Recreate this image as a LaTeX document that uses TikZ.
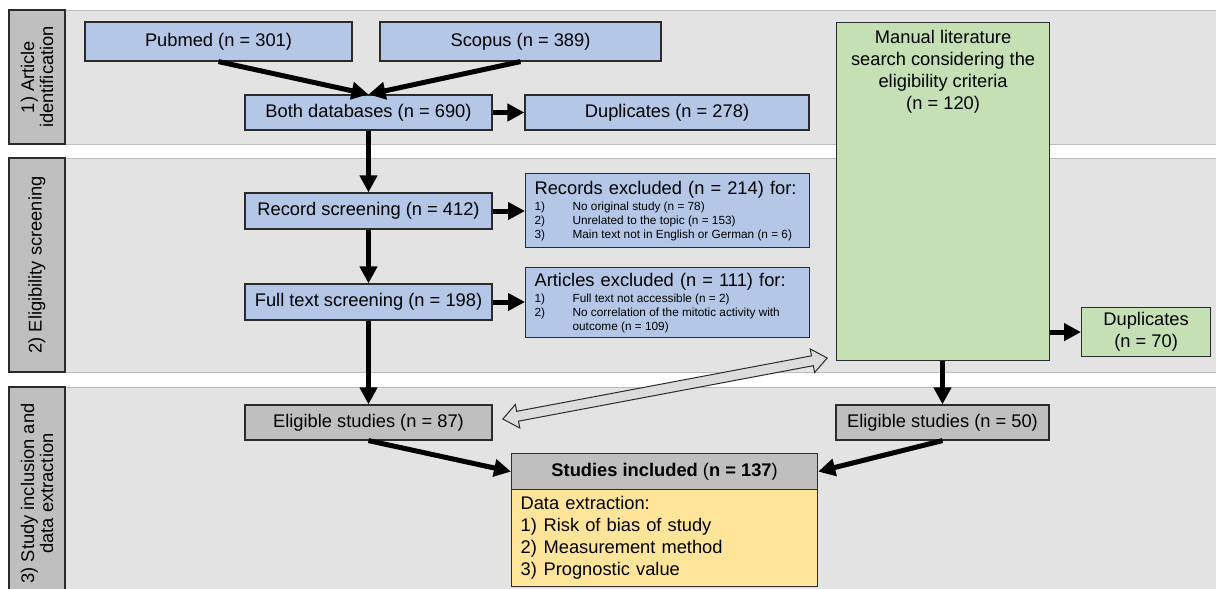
\documentclass[tikz,border=0pt]{standalone}
\usepackage{fontspec}
\setmainfont{Liberation Sans}
\usetikzlibrary{arrows.meta}

\definecolor{bandfill}{HTML}{E3E3E3}
\definecolor{bandline}{HTML}{BDBDBD}
\definecolor{boxline}{HTML}{2B2B2B}
\definecolor{phasegray}{HTML}{BFBFBF}
\definecolor{boxblue}{HTML}{B4C7E7}
\definecolor{boxgreen}{HTML}{C5E0B4}
\definecolor{boxyellow}{HTML}{FFE599}
\definecolor{swapgray}{HTML}{DCDCDC}

\newcommand{\itemno}[2][38pt]{\makebox[#1][l]{#2}}
\newcommand{\smalllist}{\fontsize{11.8}{14}\selectfont\spaceskip=0pt\xspaceskip=0pt\relax}

\begin{document}
\begin{tikzpicture}[x=1pt, y=-1pt,
    every node/.style={font=\fontsize{18.3}{22}\selectfont},
    band/.style={draw=bandline, fill=bandfill, line width=0.8pt},
    phase/.style={draw=boxline, fill=phasegray, line width=1.2pt, rotate=90,
        minimum height=56pt, inner sep=0pt, align=center,
        font=\fontsize{18.3}{19}\selectfont},
    box/.style={draw=boxline, line width=1.2pt, inner sep=0pt},
    bluebox/.style={box, fill=boxblue},
    graybox/.style={box, fill=phasegray},
    flow/.style={line width=5pt, -{Triangle[length=17pt,width=17pt]}},
    swapshape/.style={draw=boxline, fill=swapgray, line width=1pt, line join=miter}
]
    \useasboundingbox (0,0) rectangle (1216,589);
    \clip (0,0) rectangle (1216,589);

    % phases
    \draw[band] (9,10) rectangle (1226,144);
    \draw[band] (9,158) rectangle (1226,372);
    \draw[band] (9,387) rectangle (1226,600);
    \node[phase, minimum width=134pt] (ph1) at (37,77) {1) Article\\identification};
    \node[phase, minimum width=214pt] (ph2) at (37,265) {2) Eligibility screening};
    \node[phase, minimum width=213pt] (ph3) at (37,493.5) {3) Study inclusion and\\data extraction};

    % database search
    \node[bluebox, minimum width=267pt, minimum height=39pt] (pubmed) at (218.5,41.5) {Pubmed (n = 301)};
    \node[bluebox, minimum width=281pt, minimum height=39pt] (scopus) at (520.5,41.5) {Scopus (n = 389)};
    \node[bluebox, minimum width=247pt, minimum height=35pt] (both) at (368.5,112.5) {Both databases (n = 690)};
    \node[bluebox, minimum width=284pt, minimum height=35pt] (dup1) at (667,112.5) {Duplicates (n = 278)};
    \node[bluebox, minimum width=247pt, minimum height=36pt] (record) at (368.5,211) {Record screening (n = 412)};
    \node[bluebox, minimum width=247pt, minimum height=36pt] (full) at (368.5,302) {Full text screening (n = 198)};

    \node[bluebox, anchor=north west, minimum width=284pt, minimum height=74pt,
        text width=266pt] (recex) at (525,173) {\raggedright
        Records excluded (n = 214) for:\par\vspace{2pt}
        {\smalllist
        \itemno{1)}No original study (n = 78)\par
        \itemno{2)}Unrelated to the topic (n = 153)\par
        \itemno{3)}Main text not in English or German (n = 6)\par}};
    \node[bluebox, anchor=north west, minimum width=284pt, minimum height=70pt,
        text width=266pt] (artex) at (525,267) {\raggedright
        Articles excluded (n = 111) for:\par\vspace{2pt}
        {\smalllist
        \itemno{1)}Full text not accessible (n = 2)\par
        \itemno{2)}No correlation of the mitotic activity with\\\hspace*{38pt}outcome (n = 109)\par}};

    % manual search
    \node[box, fill=boxgreen, anchor=north west, minimum width=213pt, minimum height=338pt,
        label={[anchor=north, align=center, yshift=-5pt]north:Manual literature\\search considering the\\eligibility criteria\\(n = 120)}]
        (manual) at (836,22) {};
    \node[box, fill=boxgreen, anchor=north west, minimum width=129pt, minimum height=49pt,
        align=center] (dup2) at (1081,307) {Duplicates\\(n = 70)};

    % inclusion
    \node[graybox, minimum width=247pt, minimum height=35pt] (elig1) at (368.5,422.5) {Eligible studies (n = 87)};
    \node[graybox, minimum width=213pt, minimum height=35pt] (elig2) at (942.5,422.5) {Eligible studies (n = 50)};
    \node[graybox, anchor=north west, minimum width=306pt, minimum height=36pt] (incl) at (511,453)
        {\textbf{Studies included} (\textbf{n = 137})};
    \node[box, fill=boxyellow, anchor=north west, minimum width=306pt, minimum height=97pt,
        text width=288pt, align=left] (extr) at (511,489) {%
        Data extraction:\\
        \itemno[23pt]{1)}Risk of bias of study\\
        \itemno[23pt]{2)}Measurement method\\
        \itemno[23pt]{3)}Prognostic value};

    % hollow double arrow between the two searches
    \begin{scope}[shift={(665,388.5)}, rotate=10.66]
        \draw[swapshape] (-165,0) -- (-150,-12) -- (-150,-5) -- (150,-5) -- (150,-12)
            -- (165,0) -- (150,12) -- (150,5) -- (-150,5) -- (-150,12) -- cycle;
    \end{scope}

    \draw[flow] (pubmed.south) -- (both.north);
    \draw[flow] (scopus.south) -- (both.north);
    \draw[flow] (both) -- (dup1);
    \draw[flow] (both) -- (record);
    \draw[flow] (record) -- (recex.west |- record);
    \draw[flow] (record) -- (full);
    \draw[flow] (full) -- (artex.west |- full);
    \draw[flow] (full) -- (elig1);
    \draw[flow] (manual.east |- dup2) -- (dup2.west);
    \draw[flow] (manual.south -| elig2) -- (elig2.north);
    \draw[flow] (elig1.south) -- (incl.west);
    \draw[flow] (elig2.south) -- (incl.east);
\end{tikzpicture}
\end{document}
